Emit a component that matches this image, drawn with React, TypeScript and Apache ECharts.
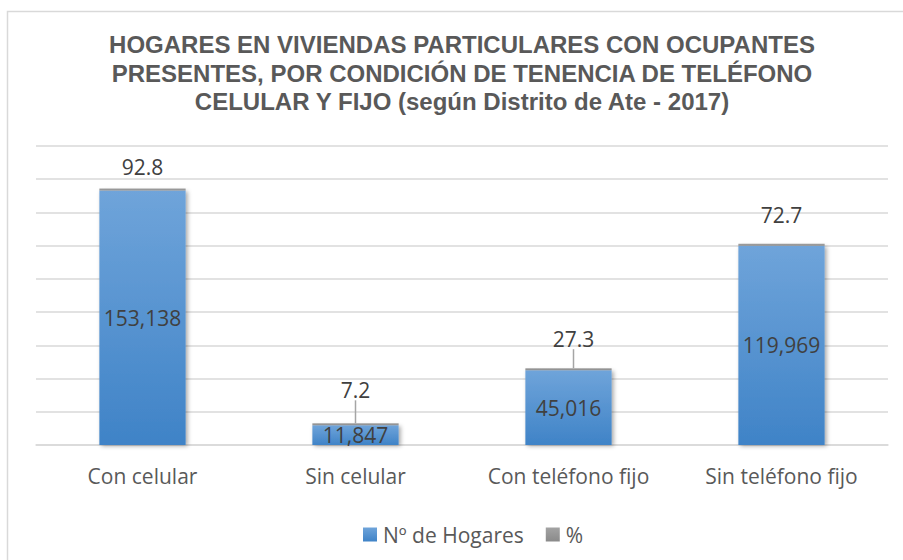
import React, { useEffect, useRef } from "react";
import * as echarts from "echarts";

const categories = ["Con celular", "Sin celular", "Con teléfono fijo", "Sin teléfono fijo"];
const hogares = [153138, 11847, 45016, 119969];
const porcentaje = [92.8, 7.2, 27.3, 72.7];
const titleLines = [
  "HOGARES EN VIVIENDAS PARTICULARES CON OCUPANTES",
  "PRESENTES, POR CONDICIÓN DE TENENCIA DE TELÉFONO",
  "CELULAR Y FIJO (según Distrito de Ate - 2017)",
];
const legendNames = ["Nº de Hogares", "%"];

// label displacement for the % labels (dx, dy) and whether a leader line is drawn
const pctLabelDx = [0, 0, 5, 0];
const pctLabelDy = [-6, -18, -14, -13];
const pctLeader = [false, true, true, false];

const FONT = "'Open Sans', 'Noto Sans', sans-serif";
const TEXT = "#595959";

export default function App() {
  const ref = useRef<HTMLDivElement>(null);
  useEffect(() => {
    if (!ref.current) return;
    const chart = echarts.init(ref.current, undefined, { renderer: "svg" });
    const blue = new echarts.graphic.LinearGradient(0, 0, 0, 1, [
      { offset: 0, color: "#6fa4da" },
      { offset: 1, color: "#3f83c7" },
    ]);
    const gray = new echarts.graphic.LinearGradient(0, 0, 0, 1, [
      { offset: 0, color: "#a3a3a3" },
      { offset: 1, color: "#8a8a8a" },
    ]);
    chart.setOption({
      animation: false,
      backgroundColor: "#ffffff",
      graphic: [
        {
          type: "rect",
          shape: { x: 7.5, y: 11.5, width: 1000, height: 700 },
          style: { fill: "none", stroke: "#d9d9d9", lineWidth: 1.5 },
          silent: true,
        },
        {
          type: "text",
          x: 462,
          y: 73,
          style: {
            text: titleLines.join("\n"),
            fontFamily: "'Liberation Sans', Arial, sans-serif",
            fontWeight: "bold",
            fontSize: 24,
            lineHeight: 28.5,
            fill: TEXT,
            textAlign: "center",
            textVerticalAlign: "middle",
          },
        },
      ],
      legend: {
        data: legendNames,
        left: 358,
        top: 519,
        itemWidth: 14,
        itemHeight: 14,
        itemGap: 22,
        icon: "rect",
        textStyle: { fontFamily: FONT, fontSize: 21, color: TEXT, padding: [0, 0, 0, 1] },
      },
      grid: { left: 36, right: 15, top: 146, bottom: 115 },
      xAxis: {
        type: "category",
        data: categories,
        axisTick: { show: false },
        axisLine: { lineStyle: { color: "#d9d9d9", width: 1.5 } },
        axisLabel: { fontFamily: FONT, fontSize: 21, color: TEXT, margin: 20 },
      },
      yAxis: {
        type: "value",
        min: 0,
        max: 180000,
        interval: 20000,
        axisLabel: { show: false },
        axisLine: { show: false },
        axisTick: { show: false },
        splitLine: { lineStyle: { color: "#d9d9d9", width: 1.5 } },
      },
      series: [
        {
          name: legendNames[0],
          type: "bar",
          stack: "total",
          barWidth: "40.5%",
          data: hogares,
          itemStyle: {
            color: blue,
            shadowColor: "rgba(0,0,0,0.35)",
            shadowBlur: 4,
            shadowOffsetX: 2,
            shadowOffsetY: 1,
          },
          label: {
            show: true,
            position: "inside",
            fontFamily: FONT,
            fontSize: 21,
            color: "#404040",
            formatter: (p: any) => Number(p.value).toLocaleString("en-US"),
          },
        },
        {
          name: legendNames[1],
          type: "bar",
          stack: "total",
          barMinHeight: 2,
          data: porcentaje.map((v, i) => ({
            value: v,
            labelLine: { show: pctLeader[i] },
          })),
          itemStyle: { color: gray },
          label: {
            show: true,
            position: "top",
            distance: 5,
            fontFamily: FONT,
            fontSize: 21,
            color: "#404040",
            formatter: (p: any) => String(p.value),
          },
          labelLine: { show: true, lineStyle: { color: "#a5a5a5", width: 1.5 } },
          labelLayout: (p: any) => ({ dx: pctLabelDx[p.dataIndex], dy: pctLabelDy[p.dataIndex] }),
        },
      ],
    });
    return () => chart.dispose();
  }, []);
  return (
    <div
      ref={ref}
      style={{ position: "absolute", left: 0, top: 0, width: 903, height: 560, background: "#fff" }}
    />
  );
}
